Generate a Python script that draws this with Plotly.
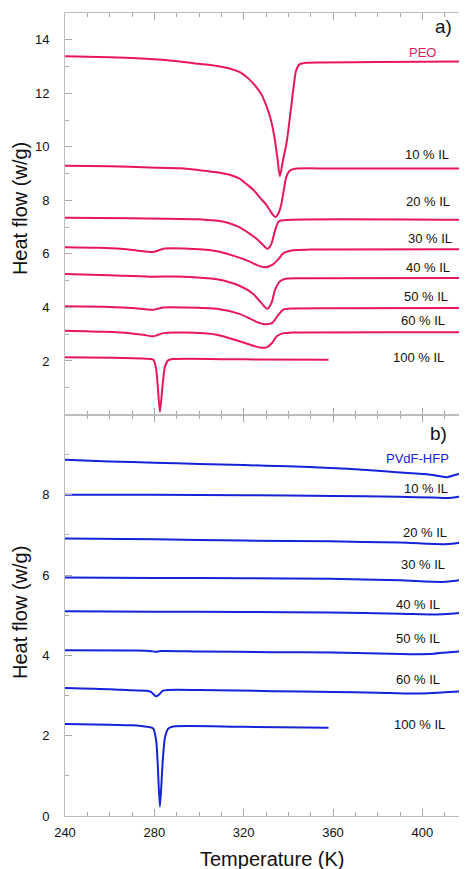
import plotly.graph_objects as go

# ---------------- Panel a) PEO based ----------------
T_PEO = [240, 255, 270, 285, 300, 308, 314, 318.5, 322.5, 325.5, 328, 330.3, 332.2, 333.8, 335.1, 336.2, 337.5, 339.3, 341, 342.3, 343.5, 345, 348, 355, 380, 420]
HF_PEO = [13.38, 13.36, 13.32, 13.24, 13.1, 13.02, 12.92, 12.78, 12.52, 12.25, 11.95, 11.5, 11.0, 10.35, 9.6, 8.9, 9.45, 10.2, 11.3, 12.2, 12.85, 13.08, 13.14, 13.15, 13.17, 13.19]

T_PEO10 = [240, 260, 278, 292, 300, 308, 314, 318, 321.4, 324.5, 327.3, 330, 331.8, 333.2, 334.3, 335.5, 336.7, 337.8, 339, 340.5, 343, 360, 420]
HF_PEO10 = [9.29, 9.27, 9.23, 9.2, 9.13, 9.05, 8.95, 8.82, 8.6, 8.38, 8.1, 7.85, 7.62, 7.45, 7.38, 7.5, 7.8, 8.3, 8.85, 9.1, 9.18, 9.19, 9.19]

T_PEO20 = [240, 270, 300, 312, 318, 322.8, 326, 328.5, 330.6, 332.3, 333.5, 334.5, 335.8, 340, 420]
HF_PEO20 = [7.35, 7.33, 7.29, 7.18, 7.0, 6.75, 6.55, 6.35, 6.19, 6.35, 6.7, 7.0, 7.22, 7.27, 7.27]

T_PEO30 = [240, 255, 265, 272, 277, 279.5, 281.5, 284, 293, 308, 318.4, 323, 326, 329.6, 333, 335.5, 338, 342.3, 350, 420]
HF_PEO30 = [6.25, 6.23, 6.19, 6.13, 6.08, 6.07, 6.12, 6.19, 6.2, 6.1, 5.85, 5.7, 5.58, 5.5, 5.6, 5.8, 6.04, 6.14, 6.16, 6.17]

T_PEO40 = [240, 260, 278, 293, 308, 318.4, 324.3, 328, 330.6, 332.6, 334, 336.3, 339.3, 350, 420]
HF_PEO40 = [5.25, 5.2, 5.15, 5.15, 5.05, 4.8, 4.5, 4.16, 3.95, 4.2, 4.65, 4.98, 5.08, 5.09, 5.1]

T_PEO50 = [240, 260, 270, 276, 279.5, 281.5, 284, 293, 308, 318.4, 325.8, 328.8, 332.6, 335.5, 337.8, 342, 360, 420]
HF_PEO50 = [4.04, 4.02, 3.98, 3.93, 3.91, 3.95, 4.0, 4.0, 3.95, 3.75, 3.46, 3.38, 3.41, 3.72, 3.92, 3.96, 3.97, 3.98]

T_PEO60 = [240, 258, 269, 275, 279.4, 281.5, 284, 293, 308, 318.4, 324.3, 327.3, 330.3, 332.6, 334.8, 337.8, 342, 420]
HF_PEO60 = [3.13, 3.09, 3.04, 2.98, 2.92, 2.97, 3.04, 3.06, 2.98, 2.73, 2.57, 2.5, 2.51, 2.66, 2.92, 3.04, 3.06, 3.07]

T_IL_A = [240, 260, 275, 279.5, 280.8, 281.5, 282.5, 283.7, 284.8, 286.3, 288.5, 320, 358]
HF_IL_A = [2.14, 2.12, 2.09, 2.05, 1.7, 1.1, 0.1, 1.1, 1.8, 2.03, 2.07, 2.06, 2.05]

# ---------------- Panel b) PVdF-HFP based ----------------
T_PVDF = [240, 260, 280, 300, 320, 340, 358.7, 375, 388.5, 403.5, 411, 415, 420]
HF_PVDF = [8.87, 8.83, 8.80, 8.77, 8.74, 8.71, 8.67, 8.62, 8.56, 8.50, 8.44, 8.50, 8.57]

T_PVDF10 = [240, 280, 320, 360, 390, 405, 412, 416, 420]
HF_PVDF10 = [8.0, 8.0, 7.99, 7.97, 7.95, 7.93, 7.92, 7.95, 7.98]

T_PVDF20 = [240, 280, 320, 358.7, 390, 410, 416, 420]
HF_PVDF20 = [6.91, 6.89, 6.86, 6.84, 6.81, 6.77, 6.80, 6.86]

T_PVDF30 = [240, 280, 320, 358.7, 390, 409, 415, 420]
HF_PVDF30 = [5.94, 5.93, 5.92, 5.91, 5.87, 5.83, 5.86, 5.91]

T_PVDF40 = [240, 280, 320, 358.7, 390, 406, 413, 420]
HF_PVDF40 = [5.10, 5.09, 5.08, 5.07, 5.04, 5.02, 5.04, 5.08]

T_PVDF50 = [240, 270, 278, 280.5, 283, 300, 333, 360, 381, 396, 405, 412, 420]
HF_PVDF50 = [4.13, 4.12, 4.11, 4.09, 4.11, 4.10, 4.08, 4.07, 4.05, 4.03, 4.04, 4.08, 4.11]

T_PVDF60 = [240, 260, 270, 276.5, 278.5, 280.8, 282.2, 283.9, 286, 300, 333, 360, 380, 396, 410, 420]
HF_PVDF60 = [3.19, 3.16, 3.13, 3.12, 3.09, 2.98, 3.03, 3.12, 3.14, 3.14, 3.11, 3.09, 3.07, 3.05, 3.08, 3.11]

T_IL_B = [240, 260, 270, 277, 279.5, 280.8, 281.5, 282.5, 283.7, 284.8, 286.3, 288.5, 320, 358]
HF_IL_B = [2.29, 2.27, 2.26, 2.22, 2.18, 1.89, 1.32, 0.23, 1.32, 1.97, 2.18, 2.23, 2.22, 2.20]

# labels: (text, y position)
LABELS_A = [("PEO", 13.54), ("10 % IL", 9.73), ("20 % IL", 7.95), ("30 % IL", 6.56),
            ("40 % IL", 5.51), ("50 % IL", 4.41), ("60 % IL", 3.50), ("100 % IL", 2.14)]
LABELS_B = [("PVdF-HFP", 8.90), ("10 % IL", 8.15), ("20 % IL", 7.06), ("30 % IL", 6.27),
            ("40 % IL", 5.27), ("50 % IL", 4.42), ("60 % IL", 3.40), ("100 % IL", 2.29)]
LABEL_X_A = [407, 413, 413.5, 414, 413.5, 412.5, 411, 410.5]
LABEL_X_B = [413, 412.5, 412, 411, 409, 409, 409, 411]

RED = "#e8175a"
BLUE = "#1523d8"
FONT = "Liberation Sans, Arial, Helvetica, sans-serif"

fig = go.Figure()

series_a = [(T_PEO, HF_PEO), (T_PEO10, HF_PEO10), (T_PEO20, HF_PEO20), (T_PEO30, HF_PEO30),
            (T_PEO40, HF_PEO40), (T_PEO50, HF_PEO50), (T_PEO60, HF_PEO60), (T_IL_A, HF_IL_A)]
series_b = [(T_PVDF, HF_PVDF), (T_PVDF10, HF_PVDF10), (T_PVDF20, HF_PVDF20), (T_PVDF30, HF_PVDF30),
            (T_PVDF40, HF_PVDF40), (T_PVDF50, HF_PVDF50), (T_PVDF60, HF_PVDF60), (T_IL_B, HF_IL_B)]

for t, h in series_a:
    fig.add_trace(go.Scatter(x=t, y=h, mode="lines", xaxis="x", yaxis="y",
                             line=dict(color=RED, width=2, shape="spline", smoothing=0.7),
                             showlegend=False, hoverinfo="skip"))
for t, h in series_b:
    fig.add_trace(go.Scatter(x=t, y=h, mode="lines", xaxis="x2", yaxis="y2",
                             line=dict(color=BLUE, width=2, shape="spline", smoothing=0.7),
                             showlegend=False, hoverinfo="skip"))

ann = []
for i, (txt, yv) in enumerate(LABELS_A):
    ann.append(dict(x=LABEL_X_A[i], y=yv, xref="x", yref="y", text=txt, showarrow=False,
                    xanchor="right", yanchor="middle",
                    font=dict(size=13, color=RED if i == 0 else "#111", family=FONT)))
for i, (txt, yv) in enumerate(LABELS_B):
    ann.append(dict(x=LABEL_X_B[i], y=yv, xref="x2", yref="y2", text=txt, showarrow=False,
                    xanchor="right", yanchor="middle",
                    font=dict(size=13, color=BLUE if i == 0 else "#111", family=FONT)))
ann.append(dict(x=414, y=14.5, xref="x", yref="y", text="a)", showarrow=False,
                xanchor="right", yanchor="middle", font=dict(size=19, color="#111", family=FONT)))
ann.append(dict(x=412, y=9.52, xref="x2", yref="y2", text="b)", showarrow=False,
                xanchor="right", yanchor="middle", font=dict(size=19, color="#111", family=FONT)))
# axis titles
ann.append(dict(x=-0.112, y=0.757, xref="paper", yref="paper", text="Heat flow (w/g)", textangle=-90,
                showarrow=False, xanchor="center", yanchor="middle", font=dict(size=20, color="#111", family=FONT)))
ann.append(dict(x=-0.112, y=0.254, xref="paper", yref="paper", text="Heat flow (w/g)", textangle=-90,
                showarrow=False, xanchor="center", yanchor="middle", font=dict(size=20, color="#111", family=FONT)))
ann.append(dict(x=0.517, y=-0.0535, xref="paper", yref="paper", text="Temperature (K)",
                showarrow=False, xanchor="center", yanchor="middle", font=dict(size=20, color="#111", family=FONT)))

axis_common = dict(showline=True, linecolor="#bdbdbd", linewidth=1, mirror="ticks", ticks="inside",
                   ticklen=7, tickwidth=1, tickcolor="#a8a8a8", showgrid=False, zeroline=False,
                   automargin=False,
                   tickfont=dict(size=13, color="#111", family=FONT))

# the page body adds an 8 px offset, so margins are reduced accordingly
fig.update_layout(
    width=467, height=869,
    margin=dict(l=57, r=8, t=5, b=61),
    paper_bgcolor="white", plot_bgcolor="white",
    font=dict(family=FONT),
    showlegend=False,
    annotations=ann,
    xaxis=dict(domain=[0, 1], anchor="y", range=[240, 420], tickmode="linear", tick0=240, dtick=40,
               showticklabels=False,
               minor=dict(tickmode="linear", tick0=240, dtick=10, ticks="inside", ticklen=4, tickcolor="#a8a8a8"),
               **axis_common),
    yaxis=dict(domain=[0.5, 1], anchor="x", range=[0, 15], tickmode="array", tickvals=[2, 4, 6, 8, 10, 12, 14],
               ticklabelstandoff=12,
               minor=dict(tickmode="array", tickvals=[1, 3, 5, 7, 9, 11, 13], ticks="inside", ticklen=4, tickcolor="#a8a8a8"),
               **axis_common),
    xaxis2=dict(domain=[0, 1], anchor="y2", range=[240, 420], tickmode="linear", tick0=240, dtick=40,
                ticklabelstandoff=4,
                minor=dict(tickmode="linear", tick0=240, dtick=10, ticks="inside", ticklen=4, tickcolor="#a8a8a8"),
                **axis_common),
    yaxis2=dict(domain=[0, 0.5], anchor="x2", range=[0, 10], tickmode="array", tickvals=[0, 2, 4, 6, 8],
                ticklabelstandoff=12,
                minor=dict(tickmode="array", tickvals=[1, 3, 5, 7, 9], ticks="inside", ticklen=4, tickcolor="#a8a8a8"),
                **axis_common),
)

fig.write_html("out.html")
